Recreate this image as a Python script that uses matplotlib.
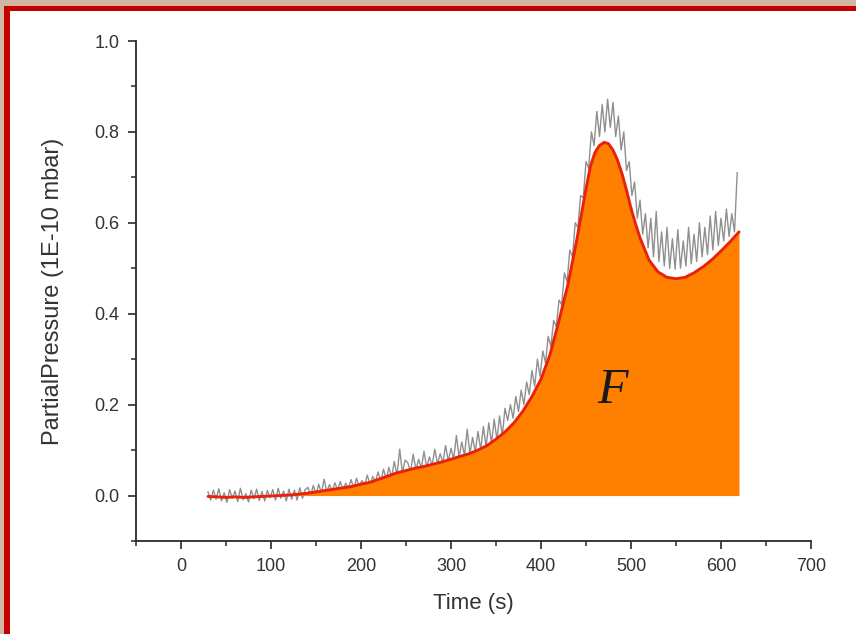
import numpy as np
import matplotlib
matplotlib.use("Agg")
import matplotlib.pyplot as plt
from matplotlib.patches import Rectangle

# ---- data -------------------------------------------------------------
# fitted (smooth) curve
fit_t = [30, 40, 50, 60, 70, 80, 90, 100, 110, 120, 130, 140, 150, 160, 170,
         180, 190, 200, 210, 220, 230, 240, 250, 260, 270, 280, 290, 300, 310,
         320, 330, 340, 350, 360, 370, 380, 390, 400, 410, 420, 430, 440, 450,
         455, 460, 465, 470, 475, 480, 485, 490, 495, 500, 505, 510, 520, 530,
         540, 550, 560, 570, 580, 590, 600, 610, 620]
fit_p = [-0.002, -0.003, -0.004, -0.003, -0.004, -0.003, -0.002, -0.001, 0.000,
         0.001, 0.003, 0.005, 0.008, 0.011, 0.014, 0.017, 0.020, 0.025, 0.029,
         0.036, 0.043, 0.050, 0.055, 0.060, 0.064, 0.069, 0.074, 0.080, 0.086,
         0.092, 0.100, 0.110, 0.124, 0.140, 0.160, 0.186, 0.218, 0.256, 0.310,
         0.385, 0.465, 0.565, 0.675, 0.725, 0.755, 0.770, 0.777, 0.774, 0.760,
         0.738, 0.708, 0.672, 0.632, 0.598, 0.567, 0.518, 0.492, 0.480, 0.477,
         0.480, 0.490, 0.503, 0.519, 0.538, 0.558, 0.580]

# raw (noisy) measurement, one sample every 3 s from 30 s
raw_start, raw_step = 30, 3
raw_p = [
    0.008, -0.010, 0.012, -0.008, 0.015, -0.012, 0.006, -0.015, 0.013, -0.006,
    0.010, -0.013, 0.016, -0.009, 0.004, -0.014, 0.012, -0.007, 0.014, -0.011,
    0.009, -0.012, 0.011, -0.005, 0.013, -0.010, 0.016, -0.006, 0.010, -0.012,
    0.014, -0.008, 0.012, -0.010, 0.017, -0.006, 0.013,
    0.018, 0.000, 0.022, 0.003, 0.025, 0.005, 0.036, 0.008, 0.024, 0.010,
    0.028, 0.012, 0.031, 0.012, 0.027, 0.016, 0.035, 0.015, 0.038, 0.019,
    0.033, 0.022, 0.045, 0.024, 0.042, 0.030, 0.052, 0.031, 0.058, 0.036,
    0.062, 0.040, 0.075, 0.044, 0.102, 0.050, 0.078,
    0.072, 0.052, 0.091, 0.057, 0.080, 0.060, 0.097, 0.062, 0.085, 0.066,
    0.102, 0.070, 0.092, 0.072, 0.110, 0.076, 0.104, 0.080, 0.132, 0.084,
    0.118, 0.088, 0.146, 0.091, 0.128, 0.096, 0.141, 0.101, 0.152, 0.107,
    0.160, 0.114, 0.168, 0.122, 0.175, 0.131, 0.192,
    0.165, 0.200, 0.170, 0.218, 0.185, 0.232, 0.200, 0.250, 0.222, 0.275,
    0.240, 0.300, 0.262, 0.318, 0.292, 0.350, 0.328, 0.385, 0.372, 0.430,
    0.420, 0.490, 0.470, 0.540, 0.525, 0.600, 0.590, 0.660, 0.655, 0.735,
    0.720, 0.800, 0.770, 0.845, 0.790, 0.860, 0.800,
    0.872, 0.810, 0.865, 0.790, 0.835, 0.760, 0.800, 0.715, 0.735, 0.660,
    0.690, 0.610, 0.650, 0.575, 0.620, 0.545, 0.610, 0.525, 0.625, 0.515,
    0.580, 0.505, 0.590, 0.500, 0.565, 0.498, 0.585, 0.500, 0.560, 0.505,
    0.590, 0.510, 0.575, 0.515, 0.600, 0.525, 0.590, 0.530, 0.615, 0.540,
    0.625, 0.550, 0.610, 0.560, 0.630, 0.570, 0.620, 0.580, 0.710,
]
raw_t = raw_start + raw_step * np.arange(len(raw_p))

x_ticks = [0, 100, 200, 300, 400, 500, 600, 700]
y_ticks = [0.0, 0.2, 0.4, 0.6, 0.8, 1.0]
y_ticklabels = ["0.0", "0.2", "0.4", "0.6", "0.8", "1.0"]

# ---- figure -----------------------------------------------------------
W, H = 856, 634
fig = plt.figure(figsize=(W / 100, H / 100), dpi=100)
fig.patch.set_facecolor("#d2b6a3")
fig.patches.append(Rectangle((4 / W, -0.01), 1.0, (H - 6) / H + 0.01,
                             transform=fig.transFigure, facecolor="#c40000",
                             edgecolor="none", zorder=-20))
fig.patches.append(Rectangle((10 / W, -0.01), 1.0, (H - 11) / H + 0.01,
                             transform=fig.transFigure, facecolor="white",
                             edgecolor="none", zorder=-10))

ax = fig.add_axes([136 / W, (H - 541) / H, (811 - 136) / W, (541 - 41) / H])
ax.set_facecolor("none")
ax.set_zorder(5)

ax.plot(raw_t, raw_p, color="#6a6a6a", lw=1.0, alpha=0.75, zorder=1)
ax.fill_between(fit_t, 0, fit_p, color="#ff8000", lw=0, zorder=2)
ax.plot(fit_t, fit_p, color="#e8220c", lw=2.1, zorder=3,
        solid_capstyle="round", solid_joinstyle="round")

ax.text(479, 0.23, "F", fontsize=36, fontstyle="italic",
        family="Liberation Serif", color="#1a1a1a", ha="center", va="center",
        zorder=4)

ax.set_xlim(-50, 700)
ax.set_ylim(-0.1, 1.0)
ax.set_xticks(x_ticks)
ax.set_xticks(np.arange(-50, 701, 50), minor=True)
ax.set_yticks(y_ticks)
ax.set_yticklabels(y_ticklabels)
ax.set_yticks(np.arange(-0.1, 1.01, 0.1), minor=True)

for s in ("top", "right"):
    ax.spines[s].set_visible(False)
for s in ("left", "bottom"):
    ax.spines[s].set_color("#2a2a2a")
    ax.spines[s].set_linewidth(1.3)

ax.tick_params(which="major", direction="out", length=6, width=1.2,
               color="#2a2a2a", labelsize=13, labelcolor="#333333", pad=6)
ax.tick_params(which="minor", direction="out", length=3.5, width=1.1,
               color="#2a2a2a")
for lab in ax.get_xticklabels() + ax.get_yticklabels():
    lab.set_family("Liberation Sans")

ax.set_xlabel("Time (s)", fontsize=16, family="Liberation Sans",
              color="#333333", labelpad=13)
ax.set_ylabel("PartialPressure (1E-10 mbar)", fontsize=17,
              family="Liberation Sans", color="#333333", labelpad=22)

fig.savefig("out.png", dpi=100, facecolor=fig.get_facecolor())
